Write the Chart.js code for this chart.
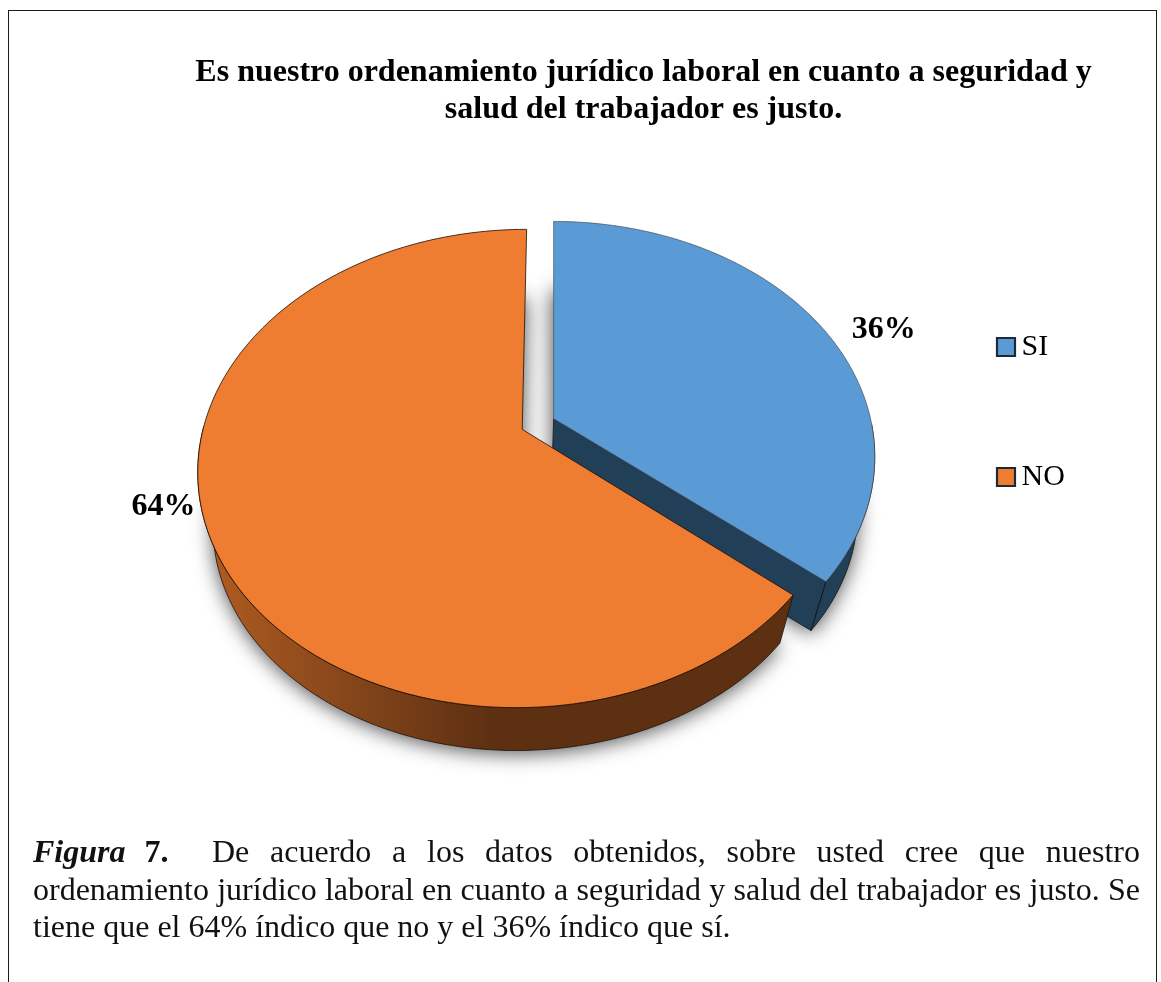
<!DOCTYPE html>
<html lang="es"><head><meta charset="utf-8">
<style>
html,body{margin:0;padding:0;background:#fff;width:1161px;height:982px;overflow:hidden}
#frame{position:absolute;left:8px;top:10px;width:1149px;height:975px;border:1.5px solid #1a1a1a;border-bottom:none;box-sizing:border-box}
#wrap{position:absolute;left:0;top:0;width:1161px;height:982px}
#caption{position:absolute;left:33px;top:833px;width:1107px;font:32px/37.5px "Liberation Serif",serif;color:#111}
#caption div{text-align:justify;text-align-last:justify;white-space:nowrap}
#caption div:last-child{text-align-last:left}
#caption .head{display:inline-block;width:179px;text-align-last:left;word-spacing:11px}
</style></head><body>
<div id="frame"></div>
<div id="wrap"><canvas id="c" width="1161" height="982"></canvas></div>
<div id="caption">
<div><span class="head"><b><i>Figura</i> 7.</b></span>De acuerdo a los datos obtenidos, sobre usted cree que nuestro</div>
<div>ordenamiento jurídico laboral en cuanto a seguridad y salud del trabajador es justo. Se</div>
<div>tiene que el 64% índico que no y el 36% índico que sí.</div>
</div>
<script src="https://cdn.jsdelivr.net/npm/chart.js@4"></script>
<script>
const categories = ['SI', 'NO'];
const percentages = [36, 64];
const titleLines = ['Es nuestro ordenamiento jurídico laboral en cuanto a seguridad y', 'salud del trabajador es justo.'];

const faceColors = ['#5B9BD5', '#EF7D31'];
const wallColors = ['#223F58', '#5E3012'];
const EXPLODE = 24;
// perspective view of the pie plane
const VIEW = {x0: 553.6, y0: 424, a: 318, b: 231, k: 0.163, ushift: 0.049, vx: 515, vy: 1600, depth: 0.048};

function project(u, v) {
  const w = 1 - VIEW.k * v;
  return [VIEW.x0 + VIEW.a * (u - VIEW.ushift) / w, VIEW.y0 + VIEW.b * v / w];
}
function lower(p) {
  return [p[0] + VIEW.depth * (VIEW.vx - p[0]), p[1] + VIEW.depth * (VIEW.vy - p[1])];
}
function sliceGeom(el) {
  const R = el.outerRadius, mid = (el.startAngle + el.endAngle) / 2, off = (el.options.offset || 0) / R;
  const ou = off * Math.cos(mid), ov = off * Math.sin(mid);
  const arc = [], front = [], n = 160;
  for (let i = 0; i <= n; i++) {
    const t = el.startAngle + (el.endAngle - el.startAngle) * i / n;
    const p = project(ou + Math.cos(t), ov + Math.sin(t));
    arc.push(p);
    if (Math.sin(t) + ov > 0) front.push(p);
  }
  return {apex: project(ou, ov), arc, front, mid, ou, ov};
}
function poly(ctx, pts) {
  ctx.beginPath();
  pts.forEach((p, i) => i ? ctx.lineTo(p[0], p[1]) : ctx.moveTo(p[0], p[1]));
  ctx.closePath();
}
Chart.ArcElement.prototype.draw = function (ctx) {
  const g = sliceGeom(this);
  const top = [g.apex].concat(g.arc);
  const isFirst = this.options.backgroundColor === faceColors[0];
  const wall = isFirst ? wallColors[0] : wallColors[1];
  ctx.save();
  ctx.lineJoin = 'round';
  ctx.lineWidth = 0.9;
  ctx.strokeStyle = 'rgba(20,15,10,.85)';
  // cut face at the clockwise end of the slice; the other one faces away
  const e = g.arc[g.arc.length - 1];
  if (isFirst) {
    poly(ctx, [g.apex, e, lower(e), lower(g.apex)]);
    ctx.fillStyle = wall; ctx.fill(); ctx.stroke();
  }
  // outer rim, front half only
  poly(ctx, g.front.concat(g.front.map(lower).reverse()));
  if (isFirst) {
    ctx.fillStyle = wall;
  } else {
    const gr = ctx.createLinearGradient(205, 0, 490, 0);
    gr.addColorStop(0, '#B15C20'); gr.addColorStop(.45, '#8A481B'); gr.addColorStop(1, wall);
    ctx.fillStyle = gr;
  }
  ctx.fill(); ctx.stroke();
  // top face
  poly(ctx, top);
  ctx.fillStyle = this.options.backgroundColor;
  ctx.fill();
  ctx.strokeStyle = isFirst ? 'rgba(70,80,90,.8)' : 'rgba(30,15,5,.9)';
  ctx.stroke();
  ctx.restore();
};

const pie3d = {
  id: 'pie3d',
  afterLayout(chart) {
    const lg = chart.legend;
    lg.left = 905.5; lg.right = 1150; lg.top = 232; lg.bottom = 950;
    const t = chart.titleBlock;
    if (t) { t.left = 0; t.right = 1287; t.width = 1287; t.top = 53.5; }
  },
  beforeDatasetsDraw(chart) {
    const ctx = chart.ctx, away = 3000;
    chart.getDatasetMeta(0).data.forEach(el => {
      const g = sliceGeom(el);
      ctx.save();
      ctx.shadowColor = 'rgba(0,0,0,.68)';
      ctx.shadowBlur = 20;
      ctx.shadowOffsetX = away;
      ctx.shadowOffsetY = 3;
      poly(ctx, [lower(g.apex)].concat(g.arc.map(lower)).map(p => [p[0] - away, p[1]]));
      ctx.fillStyle = '#000';
      ctx.fill();
      ctx.restore();
    });
  },
  afterDatasetsDraw(chart) {
    const ctx = chart.ctx, nudges = [[62, 2.5], [-46, -29]];
    chart.getDatasetMeta(0).data.forEach((el, i) => {
      const g = sliceGeom(el);
      const p = project(g.ou + Math.cos(g.mid), g.ov + Math.sin(g.mid));
      ctx.save();
      ctx.font = 'bold 32px "Liberation Serif", serif';
      ctx.fillStyle = '#000';
      ctx.textAlign = 'center';
      ctx.textBaseline = 'middle';
      ctx.fillText(percentages[i] + '%', p[0] + nudges[i][0], p[1] + nudges[i][1]);
      ctx.restore();
    });
  }
};

new Chart(document.getElementById('c'), {
  type: 'pie',
  data: {
    labels: categories,
    datasets: [{data: percentages, backgroundColor: faceColors, borderColor: '#222', borderWidth: 1, offset: EXPLODE}]
  },
  plugins: [pie3d],
  options: {
    responsive: false,
    animation: false,
    plugins: {
      tooltip: {enabled: false},
      title: {
        display: true, text: titleLines, color: '#000',
        font: {family: '"Liberation Serif", serif', size: 32, weight: 'bold', lineHeight: 1.18},
        padding: 0
      },
      legend: {
        position: 'right', align: 'start',
        labels: {
          usePointStyle: true, pointStyle: 'rect', boxWidth: 1, boxHeight: 18, padding: 100,
          color: '#000',
          font: {family: '"Liberation Serif", serif', size: 30},
          generateLabels(chart) {
            return Chart.overrides.pie.plugins.legend.labels.generateLabels(chart).map(l => Object.assign(l, {lineWidth: 2.2, strokeStyle: '#1c2a38'}));
          }
        }
      }
    }
  }
});
</script>
</body></html>
